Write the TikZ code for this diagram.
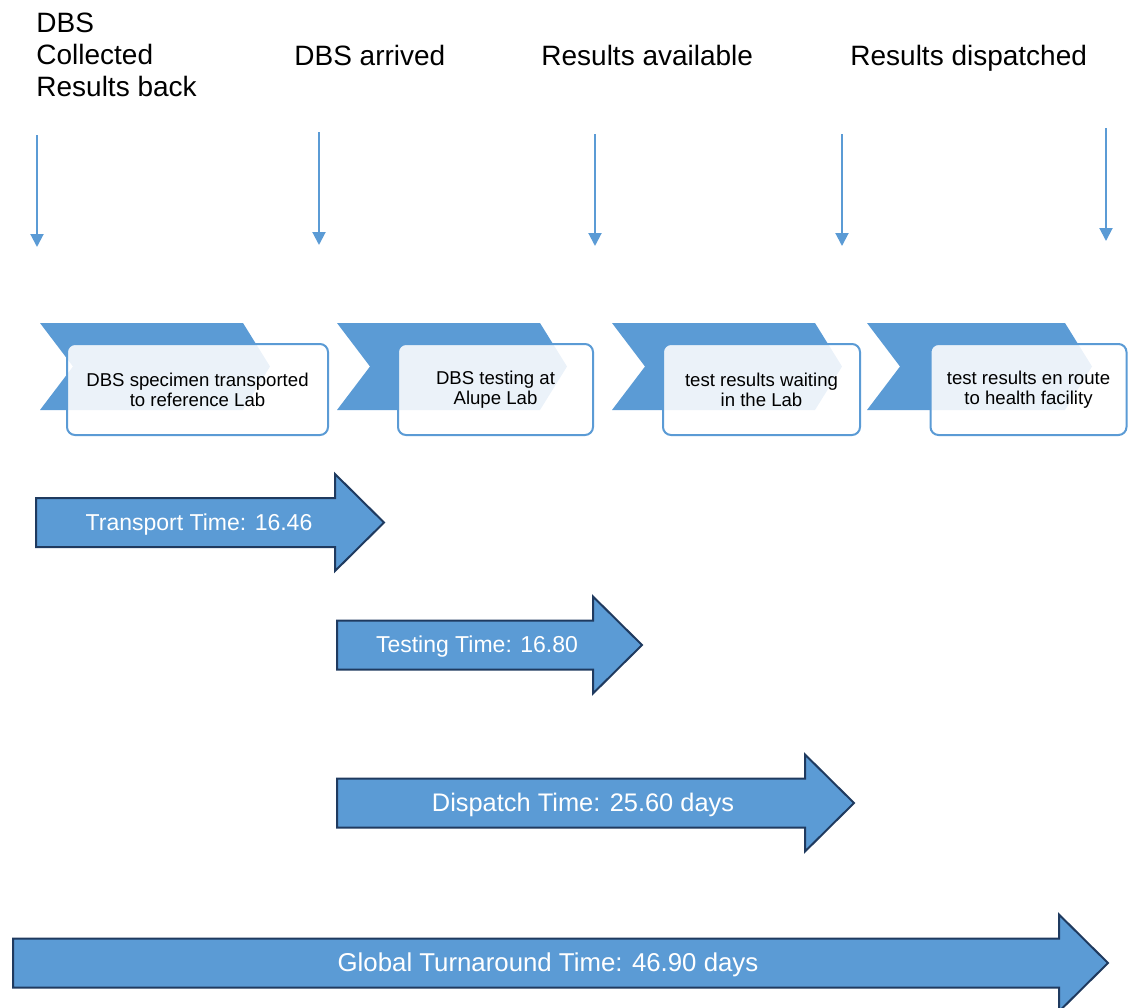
\documentclass[tikz,border=0pt]{standalone}
\usepackage{fontspec}
\setmainfont{Liberation Sans}
\usetikzlibrary{arrows.meta}
\definecolor{smblue}{HTML}{5B9BD5}
\definecolor{smnavy}{HTML}{1F3A5F}

\begin{document}
\begin{tikzpicture}[x=0.5pt, y=-0.5pt,
  lbl/.style={inner sep=0pt, font=\fontsize{14}{16}\selectfont, align=left},
  drop/.style={draw=smblue, line width=1pt, -{Triangle[width=6.5pt, length=6.5pt]}},
  chev/.style={fill=smblue},
  stagebox/.style={draw=smblue, line width=1pt, rounded corners=4pt, fill=white, fill opacity=0.88, text opacity=1, minimum height=45.5pt, align=center, font=\fontsize{9.3}{10}\selectfont, inner sep=0pt},
  barrow/.style={draw=smnavy, line width=1pt, fill=smblue},
  btext/.style={text=white, inner sep=0pt}]
\useasboundingbox (0,0) rectangle (1132,1008);
\clip (0,0) rectangle (1132,1008);

% milestones
\node[lbl, anchor=north west] (collected) at (36,13) {DBS\\Collected\\Results back};
\node[lbl, anchor=base west] (arrived) at (294,65) {DBS arrived};
\node[lbl, anchor=base west] (available) at (541,65) {Results available};
\node[lbl, anchor=base west] (dispatched) at (850,65) {Results dispatched};
\foreach \n/\x/\ya/\yb in {1/37/135/247, 2/319/132/245, 3/595/134/246, 4/842/134/246, 5/1106/128/241} {
  \coordinate (d\n) at (\x,\ya);
  \coordinate (e\n) at (\x,\yb);
  \draw[drop] (d\n) -- (e\n);
}

% process chevrons
\foreach \xl/\xr in {40/243, 337/540, 612/815, 867/1065}
  \fill[chev] (\xl,323) -- (\xr,323) -- (\xr+27,366.5) -- (\xr,410) -- (\xl,410) -- (\xl+33,366.5) -- cycle;
\node[stagebox, minimum width=130.5pt] (transported) at (197.5,389.5) {DBS specimen transported\\to reference Lab};
\node[stagebox, minimum width=97.5pt] (testing) at (495.5,389.5) {DBS testing at\\Alupe Lab};
\node[stagebox, minimum width=98.5pt] (waiting) at (761.5,389.5) {test results waiting\\in the Lab};
\node[stagebox, minimum width=98pt] (enroute) at (1028.5,389.5) {test results en route\\to health facility};

% time spans
\foreach \n/\xa/\xb/\yc/\xt/\fs/\txt in {
    tt/36/335/522.5/199/11.5/Transport Time: 16.46,
    ts/337/593/645/477/11.5/Testing Time: 16.80,
    td/337/805/803/583/12.7/Dispatch Time: 25.60 days,
    tg/13/1059/963/548/12.9/Global Turnaround Time: 46.90 days} {
  \draw[barrow] (\xa,\yc-24.5) -- (\xb,\yc-24.5) -- (\xb,\yc-48.5) -- (\xb+49,\yc)
    -- (\xb,\yc+48.5) -- (\xb,\yc+24.5) -- (\xa,\yc+24.5) -- cycle;
  \node[btext, font=\fontsize{\fs}{14}\selectfont] (\n) at (\xt,\yc+2) {\txt};
}
\end{tikzpicture}
\end{document}
